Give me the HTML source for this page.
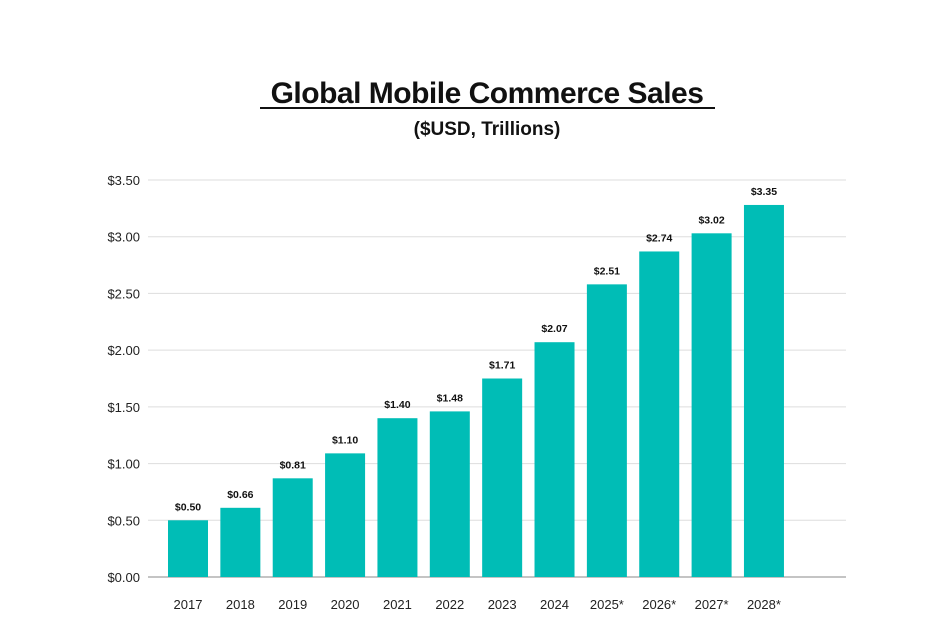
<!DOCTYPE html>
<html><head><meta charset="utf-8"><style>
body{margin:0;background:#fff;width:939px;height:637px;overflow:hidden;font-family:"Liberation Sans",sans-serif}
</style></head><body>
<svg width="939" height="637">
<text x="487" y="103" text-anchor="middle" font-size="30" font-weight="bold" fill="#111" letter-spacing="-0.5">Global Mobile Commerce Sales</text>
<line x1="260" y1="108" x2="715" y2="108" stroke="#111" stroke-width="2"/>
<text x="487" y="135" text-anchor="middle" font-size="19" font-weight="bold" fill="#111">($USD, Trillions)</text>
<g id="grid"></g><g id="bars"></g>
</svg>
<script>
const categories=["2017","2018","2019","2020","2021","2022","2023","2024","2025*","2026*","2027*","2028*"];
const values=[0.50,0.61,0.87,1.09,1.40,1.46,1.75,2.07,2.58,2.87,3.03,3.28];
const valueLabels=["$0.50","$0.66","$0.81","$1.10","$1.40","$1.48","$1.71","$2.07","$2.51","$2.74","$3.02","$3.35"];
const ticks=[0,0.5,1,1.5,2,2.5,3,3.5];
const tickLabels=["$0.00","$0.50","$1.00","$1.50","$2.00","$2.50","$3.00","$3.50"];
const NS="http://www.w3.org/2000/svg";
const y0=577,yTop=180,x0=148,x1=846;
const y=v=>y0-(v/3.5)*(y0-yTop);
const step=52.36,bw=40;
const xc=i=>188+i*step;
function mk(t,a,p){const e=document.createElementNS(NS,t);for(const k in a)e.setAttribute(k,a[k]);p.appendChild(e);return e;}
const g=document.getElementById('grid'),b=document.getElementById('bars');
ticks.forEach((t,i)=>{
 const l=mk('line',{x1:x0,x2:x1,y1:y(t),y2:y(t),stroke:i==0?'#888':'#ddd','stroke-width':1},g);
 
 
 const tx=mk('text',{x:140,y:y(t)+5,'text-anchor':'end','font-size':13,fill:'#222'},g);
 tx.textContent=tickLabels[i];
 
 
});
categories.forEach((c,i)=>{
 const r=mk('rect',{x:xc(i)-bw/2,y:y(values[i]),width:bw,height:y0-y(values[i]),fill:'#00bdb6'},b);
 
 
 const v=mk('text',{x:xc(i),y:y(values[i])-10,'text-anchor':'middle','font-size':10.5,'font-weight':'bold',fill:'#111'},b);
 v.textContent=valueLabels[i];
 
 
 const cx=mk('text',{x:xc(i),y:609,'text-anchor':'middle','font-size':13,fill:'#222'},b);
 cx.textContent=c;
 
 
});
</script>
</body></html>
